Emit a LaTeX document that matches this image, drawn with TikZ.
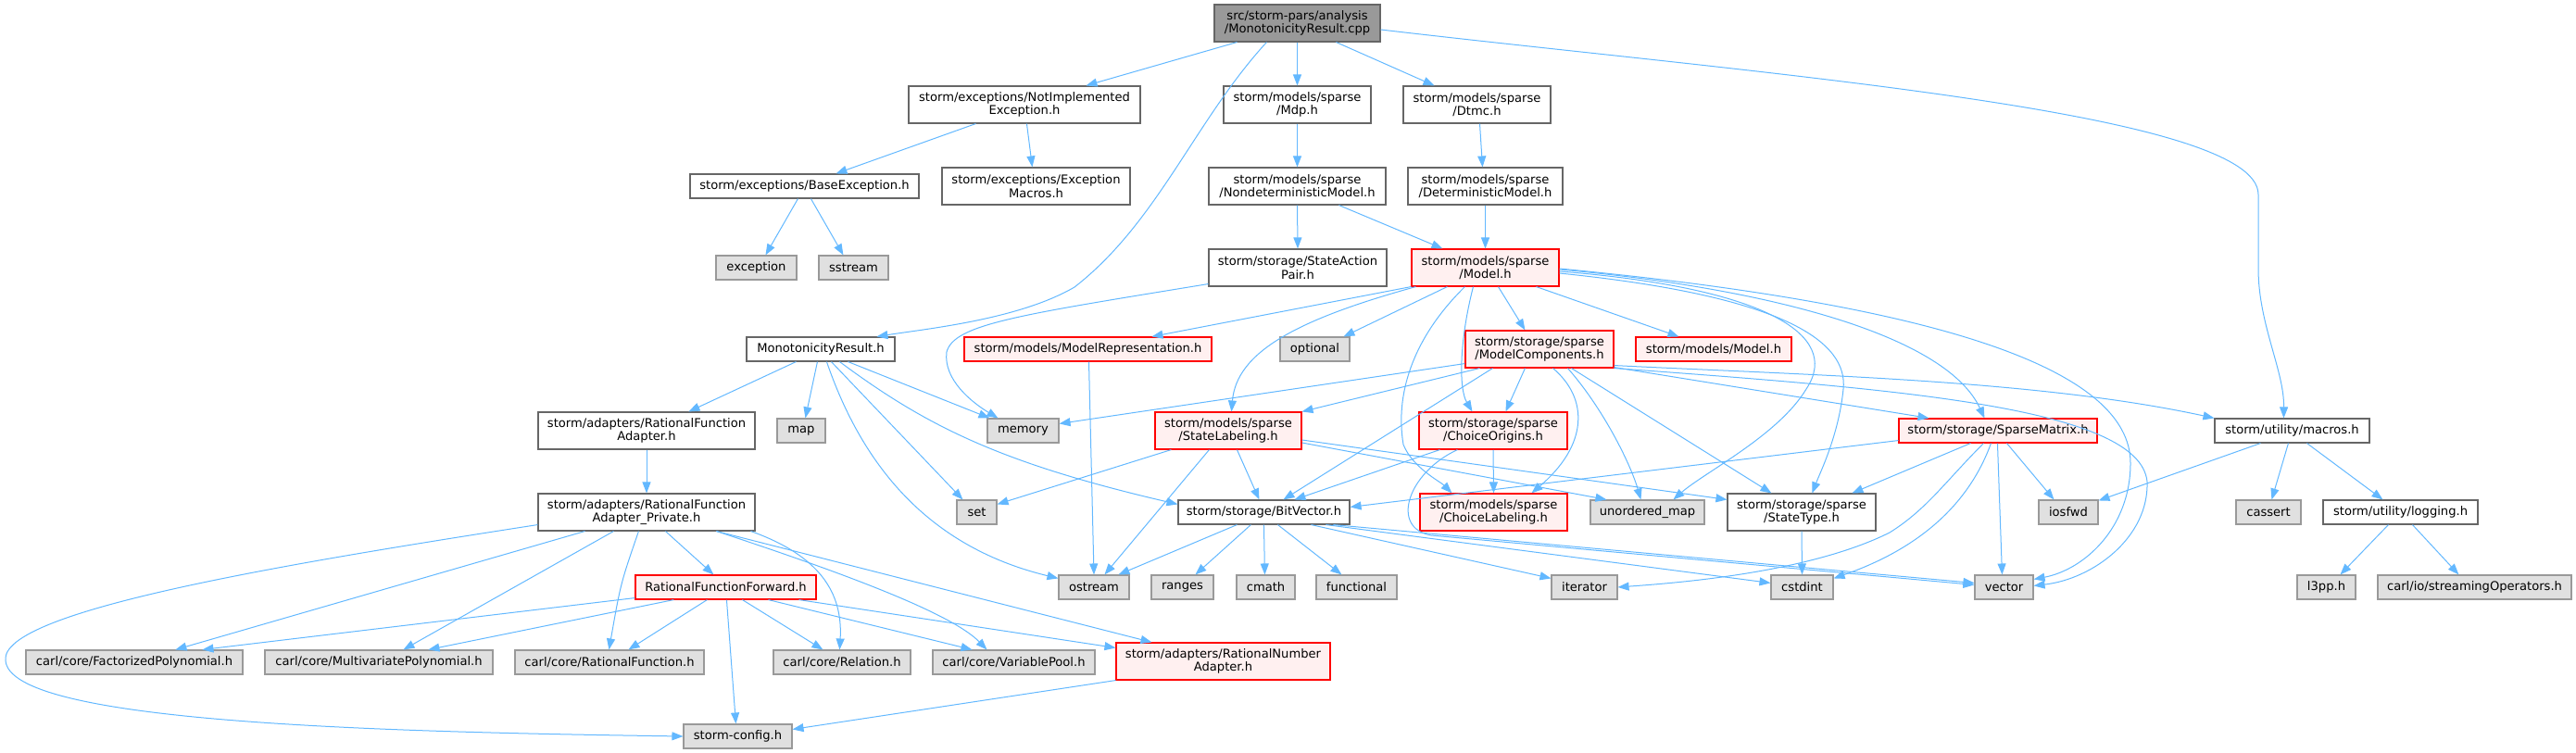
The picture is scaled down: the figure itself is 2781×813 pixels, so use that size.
\documentclass[tikz,border=0pt]{standalone}
\usepackage{fontspec}
\usetikzlibrary{arrows.meta}
\newfontfamily\dvsans{DejaVu Sans}
\definecolor{edgeblue}{HTML}{63B8FF}
\definecolor{bordgray}{HTML}{666666}
\definecolor{extborder}{HTML}{999999}
\definecolor{extfill}{HTML}{E0E0E0}
\definecolor{topfill}{HTML}{999999}
\definecolor{trfill}{HTML}{FFF0F0}
\newcommand{\mknode}[7]{\node[#1,minimum width={(#5-#3)*1pt},minimum height={(#6-#4)*1pt}] (#2) at ({(#3+#5)/2},{(#4+#6)/2}) {#7};}
\tikzset{
  nbase/.style={rectangle, inner sep=0pt, align=center, line width=1.1pt, text=black,
    font={\dvsans\fontsize{13.1}{14.5}\selectfont}},
  wbox/.style={nbase, draw=bordgray, fill=white},
  gbox/.style={nbase, draw=extborder, fill=extfill},
  rbox/.style={nbase, draw=red, fill=trfill},
  topbox/.style={nbase, draw=bordgray, fill=topfill},
  ed/.style={draw=edgeblue, line width=1pt, -{Triangle[length=12pt,width=9pt]}}
}
\begin{document}
\begin{tikzpicture}[x=1pt,y=-1pt]
\useasboundingbox (0,0) rectangle (2781,813);
% nodes
\mknode{topbox}{top}{1311}{5}{1490}{45}{src/storm-pars/analysis\\/MonotonicityResult.cpp}
\mknode{wbox}{notimpl}{981}{93}{1231}{133}{storm/exceptions/NotImplemented\\Exception.h}
\mknode{wbox}{mdp}{1321}{93}{1480}{133}{storm/models/sparse\\/Mdp.h}
\mknode{wbox}{dtmc}{1515}{93}{1674}{133}{storm/models/sparse\\/Dtmc.h}
\mknode{wbox}{baseexc}{745}{188}{992}{214}{storm/exceptions/BaseException.h}
\mknode{wbox}{excmacros}{1017}{181}{1220}{221}{storm/exceptions/Exception\\Macros.h}
\mknode{wbox}{nondet}{1305}{181}{1496}{221}{storm/models/sparse\\/NondeterministicModel.h}
\mknode{wbox}{det}{1520}{181}{1687}{221}{storm/models/sparse\\/DeterministicModel.h}
\mknode{gbox}{exception}{773}{276}{860}{302}{exception}
\mknode{gbox}{sstream}{884}{276}{959}{302}{sstream}
\mknode{wbox}{sap}{1305}{269}{1497}{309}{storm/storage/StateAction\\Pair.h}
\mknode{rbox}{model}{1524}{269}{1683}{309}{storm/models/sparse\\/Model.h}
\mknode{wbox}{monres}{806}{364}{966}{390}{MonotonicityResult.h}
\mknode{rbox}{modelrep}{1041}{364}{1308}{390}{storm/models/ModelRepresentation.h}
\mknode{gbox}{optional}{1382}{364}{1457}{390}{optional}
\mknode{rbox}{modelcomp}{1582}{357}{1742}{397}{storm/storage/sparse\\/ModelComponents.h}
\mknode{rbox}{modelsmodel}{1766}{364}{1934}{390}{storm/models/Model.h}
\mknode{wbox}{rfa}{581}{445}{815}{485}{storm/adapters/RationalFunction\\Adapter.h}
\mknode{gbox}{map}{839}{452}{891}{478}{map}
\mknode{gbox}{memory}{1066}{452}{1143}{478}{memory}
\mknode{rbox}{statelab}{1247}{445}{1405}{485}{storm/models/sparse\\/StateLabeling.h}
\mknode{rbox}{choiceorig}{1532}{445}{1692}{485}{storm/storage/sparse\\/ChoiceOrigins.h}
\mknode{rbox}{sparsematrix}{2050}{452}{2264}{478}{storm/storage/SparseMatrix.h}
\mknode{wbox}{macros}{2391}{452}{2558}{478}{storm/utility/macros.h}
\mknode{wbox}{rfap}{581}{533}{815}{573}{storm/adapters/RationalFunction\\Adapter\_Private.h}
\mknode{gbox}{set}{1033}{540}{1076}{566}{set}
\mknode{wbox}{bitvector}{1272}{540}{1457}{566}{storm/storage/BitVector.h}
\mknode{rbox}{choicelab}{1533}{533}{1692}{573}{storm/models/sparse\\/ChoiceLabeling.h}
\mknode{gbox}{umap}{1717}{540}{1840}{566}{unordered\_map}
\mknode{wbox}{statetype}{1865}{533}{2025}{573}{storm/storage/sparse\\/StateType.h}
\mknode{gbox}{iosfwd}{2201}{540}{2265}{566}{iosfwd}
\mknode{gbox}{cassert}{2414}{540}{2484}{566}{cassert}
\mknode{wbox}{logging}{2508}{540}{2675}{566}{storm/utility/logging.h}
\mknode{rbox}{rff}{686}{621}{881}{647}{RationalFunctionForward.h}
\mknode{gbox}{ostream}{1143}{621}{1219}{647}{ostream}
\mknode{gbox}{ranges}{1243}{621}{1310}{647}{ranges}
\mknode{gbox}{cmath}{1335}{621}{1398}{647}{cmath}
\mknode{gbox}{functional}{1421}{621}{1508}{647}{functional}
\mknode{gbox}{iterator}{1675}{621}{1746}{647}{iterator}
\mknode{gbox}{cstdint}{1912}{621}{1979}{647}{cstdint}
\mknode{gbox}{vector}{2132}{621}{2195}{647}{vector}
\mknode{gbox}{l3pp}{2480}{621}{2543}{647}{l3pp.h}
\mknode{gbox}{streamops}{2567}{621}{2776}{647}{carl/io/streamingOperators.h}
\mknode{gbox}{factpoly}{28}{702}{262}{728}{carl/core/FactorizedPolynomial.h}
\mknode{gbox}{multipoly}{286}{702}{532}{728}{carl/core/MultivariatePolynomial.h}
\mknode{gbox}{ratfunc}{556}{702}{760}{728}{carl/core/RationalFunction.h}
\mknode{gbox}{relation}{835}{702}{983}{728}{carl/core/Relation.h}
\mknode{gbox}{varpool}{1007}{702}{1182}{728}{carl/core/VariablePool.h}
\mknode{rbox}{rna}{1205}{694}{1436}{734}{storm/adapters/RationalNumber\\Adapter.h}
\mknode{gbox}{config}{738}{782}{855}{808}{storm-config.h}
% edges from top
\draw[ed] ([xshift=25pt]top.south west) -- ([xshift=192pt]notimpl.north west);
\draw[ed] ([xshift=57pt]top.south west) .. controls (1290,130) and (1250,240) .. (1160,310) .. controls (1100,345) and (1000,355) .. ([xshift=141pt]monres.north west);
\draw[ed] (top.south) -- (mdp.north);
\draw[ed] ([xshift=132pt]top.south west) -- ([xshift=34pt]dtmc.north west);
\draw[ed] ([yshift=-7pt]top.east) .. controls (1900,80) and (2438,120) .. (2438,210) -- (2438,290) .. controls (2438,350) and (2466,400) .. ([xshift=75pt]macros.north west);
% exceptions
\draw[ed] ([xshift=73pt]notimpl.south west) -- ([xshift=158pt]baseexc.north west);
\draw[ed] ([xshift=128pt]notimpl.south west) -- ([xshift=98pt]excmacros.north west);
\draw[ed] ([xshift=117pt]baseexc.south west) -- ([xshift=54pt]exception.north west);
\draw[ed] ([xshift=131pt]baseexc.south west) -- ([xshift=27pt]sstream.north west);
% models
\draw[ed] (mdp.south) -- (nondet.north);
\draw[ed] ([xshift=3pt]dtmc.south) -- ([xshift=-3pt]det.north);
\draw[ed] (nondet.south) -- (sap.north);
\draw[ed] ([xshift=141pt]nondet.south west) -- ([xshift=34pt]model.north west);
\draw[ed] (det.south) -- (model.north);
\draw[ed] ([yshift=3pt]sap.south west) .. controls (1100,340) and (1030,350) .. (1022,380) .. controls (1018,410) and (1050,435) .. ([xshift=12pt]memory.north west);
% Model.h
\draw[ed] (model.south west) -- ([xshift=203pt]modelrep.north west);
\draw[ed] ([xshift=5pt]model.south west) .. controls (1400,345) and (1335,380) .. ([xshift=83pt]statelab.north west);
\draw[ed] ([xshift=39pt]model.south west) -- ([xshift=69pt]optional.north west);
\draw[ed] ([xshift=58pt]model.south west) .. controls (1530,360) and (1505,420) .. (1515,480) .. controls (1525,505) and (1555,520) .. ([xshift=35pt]choicelab.north west);
\draw[ed] ([xshift=67pt]model.south west) .. controls (1575,370) and (1575,420) .. ([xshift=58pt]choiceorig.north west);
\draw[ed] ([xshift=94pt]model.south west) -- ([xshift=65pt]modelcomp.north west);
\draw[ed] ([xshift=135pt]model.south west) -- ([xshift=47pt]modelsmodel.north west);
\draw[ed] ([yshift=-4pt]model.east) .. controls (1900,310) and (1990,360) .. (1950,420) .. controls (1920,470) and (1840,510) .. ([xshift=90pt]umap.north west);
\draw[ed] ([yshift=-6pt]model.east) .. controls (1930,320) and (1995,370) .. (1990,420) .. controls (1985,470) and (1965,510) .. ([xshift=92pt]statetype.north west);
\draw[ed] ([yshift=-2pt]model.east) .. controls (1900,310) and (2100,360) .. ([xshift=93pt]sparsematrix.north west);
\draw[ed] ([yshift=-1pt]model.east) .. controls (2100,330) and (2300,400) .. (2300,500) .. controls (2300,570) and (2250,615) .. ([yshift=-5pt]vector.north east);
% ModelComponents
\draw[ed] ([yshift=5pt]modelcomp.south west) -- ([yshift=-6pt]memory.north east);
\draw[ed] ([xshift=16pt]modelcomp.south west) -- (statelab.north east);
\draw[ed] ([xshift=30pt]modelcomp.south west) -- ([xshift=114pt]bitvector.north west);
\draw[ed] ([xshift=65pt]modelcomp.south west) -- ([xshift=94pt]choiceorig.north west);
\draw[ed] ([xshift=95pt]modelcomp.south west) .. controls (1715,430) and (1715,480) .. ([xshift=121pt]choicelab.north west);
\draw[ed] ([xshift=111pt]modelcomp.south west) .. controls (1730,440) and (1760,500) .. ([xshift=55pt]umap.north west);
\draw[ed] ([xshift=115pt]modelcomp.south west) -- ([xshift=48pt]statetype.north west);
\draw[ed] ([yshift=3pt]modelcomp.south east) .. controls (1950,405) and (2200,410) .. (macros.north west);
\draw[ed] ([yshift=1pt]modelcomp.south east) -- ([xshift=33pt]sparsematrix.north west);
\draw[ed] (modelcomp.south east) .. controls (2050,420) and (2310,440) .. (2318,520) .. controls (2320,580) and (2260,625) .. ([yshift=-12pt]vector.north east);
% StateLabeling
\draw[ed] ([xshift=18pt]statelab.south west) -- ([yshift=-5pt]set.north east);
\draw[ed] ([xshift=59pt]statelab.south west) -- ([xshift=50pt]ostream.north west);
\draw[ed] ([xshift=89pt]statelab.south west) -- ([xshift=88pt]bitvector.north west);
\draw[ed] ([yshift=-13pt]statelab.east) -- ([xshift=18pt]umap.north west);
\draw[ed] ([yshift=-10pt]statelab.east) -- ([yshift=-7pt]statetype.north west);
% ChoiceOrigins
\draw[ed] ([xshift=23pt]choiceorig.south west) -- ([xshift=126pt]bitvector.north west);
\draw[ed] (choiceorig.south) -- (choicelab.north);
\draw[ed] ([xshift=42pt]choiceorig.south west) .. controls (1520,510) and (1500,570) .. (1545,578) -- ([yshift=-11pt]vector.north west);
% BitVector
\draw[ed] ([xshift=64pt]bitvector.south west) -- ([xshift=65pt]ostream.north west);
\draw[ed] ([xshift=79pt]bitvector.south west) -- ([xshift=48pt]ranges.north west);
\draw[ed] ([xshift=93pt]bitvector.south west) -- ([xshift=31pt]cmath.north west);
\draw[ed] ([xshift=108pt]bitvector.south west) -- ([xshift=28pt]functional.north west);
\draw[ed] ([xshift=144pt]bitvector.south west) -- ([yshift=-4pt]iterator.north west);
\draw[ed] ([xshift=160pt]bitvector.south west) -- ([yshift=-9pt]cstdint.north west);
\draw[ed] ([xshift=168pt]bitvector.south west) -- ([yshift=-9pt]vector.north west);
% SparseMatrix
\draw[ed] ([yshift=3pt]sparsematrix.south west) -- ([yshift=-8pt]bitvector.north east);
\draw[ed] ([xshift=78pt]sparsematrix.south west) -- ([xshift=135pt]statetype.north west);
\draw[ed] ([xshift=92pt]sparsematrix.south west) .. controls (2100,520) and (2080,550) .. (2040,575) .. controls (1950,620) and (1800,630) .. (iterator.east);
\draw[ed] ([xshift=100pt]sparsematrix.south west) .. controls (2120,560) and (2050,600) .. ([yshift=-4pt]cstdint.north east);
\draw[ed] ([xshift=107pt]sparsematrix.south west) -- ([xshift=30pt]vector.north west);
\draw[ed] ([xshift=117pt]sparsematrix.south west) -- ([xshift=17pt]iosfwd.north west);
\draw[ed] (statetype.south) -- (cstdint.north);
% macros / logging
\draw[ed] ([xshift=50pt]macros.south west) -- ([yshift=-1pt]iosfwd.north east);
\draw[ed] ([xshift=80pt]macros.south west) -- ([xshift=39pt]cassert.north west);
\draw[ed] ([xshift=100pt]macros.south west) -- ([xshift=65pt]logging.north west);
\draw[ed] ([xshift=71pt]logging.south west) -- ([xshift=47pt]l3pp.north west);
\draw[ed] ([xshift=97pt]logging.south west) -- ([xshift=88pt]streamops.north west);
% MonotonicityResult.h
\draw[ed] ([xshift=54pt]monres.south west) -- ([xshift=163pt]rfa.north west);
\draw[ed] ([xshift=77pt]monres.south west) -- ([xshift=31pt]map.north west);
\draw[ed] ([xshift=87pt]monres.south west) .. controls (930,500) and (1000,590) .. ([yshift=-4pt]ostream.north west);
\draw[ed] ([xshift=92pt]monres.south west) -- ([xshift=7pt]set.north west);
\draw[ed] ([xshift=101pt]monres.south west) .. controls (1000,460) and (1080,500) .. ([yshift=-5pt]bitvector.north west);
\draw[ed] ([xshift=110pt]monres.south west) -- ([xshift=3pt]memory.north west);
\draw[ed] ([xshift=1pt]modelrep.south) -- (ostream.north);
% adapters
\draw[ed] (rfa.south) -- (rfap.north);
\draw[ed] ([yshift=7pt]rfap.south west) .. controls (300,610) and (0,660) .. (6,713) .. controls (10,780) and (400,790) .. (config.west);
\draw[ed] ([xshift=51pt]rfap.south west) -- ([xshift=162pt]factpoly.north west);
\draw[ed] ([xshift=82pt]rfap.south west) -- ([xshift=150pt]multipoly.north west);
\draw[ed] ([xshift=109pt]rfap.south west) .. controls (670,630) .. ([xshift=102pt]ratfunc.north west);
\draw[ed] ([xshift=138pt]rfap.south west) -- ([xshift=85pt]rff.north west);
\draw[ed] ([xshift=-5pt]rfap.south east) .. controls (885,600) and (910,640) .. ([xshift=72pt]relation.north west);
\draw[ed] ([xshift=193pt]rfap.south west) .. controls (930,625) and (1030,665) .. ([xshift=59pt]varpool.north west);
\draw[ed] ([xshift=193pt]rfap.south west) -- ([xshift=39pt]rna.north west);
\draw[ed] ([yshift=2pt]rff.south west) -- ([xshift=191pt]factpoly.north west);
\draw[ed] ([xshift=42pt]rff.south west) -- ([xshift=177pt]multipoly.north west);
\draw[ed] ([xshift=78pt]rff.south west) -- ([xshift=123pt]ratfunc.north west);
\draw[ed] ([xshift=99pt]rff.south west) -- ([xshift=57pt]config.north west);
\draw[ed] ([xshift=116pt]rff.south west) -- ([xshift=54pt]relation.north west);
\draw[ed] ([xshift=144pt]rff.south west) -- ([xshift=43pt]varpool.north west);
\draw[ed] ([xshift=177pt]rff.south west) -- ([yshift=-6pt]rna.north west);
\draw[ed] (rna.south west) -- ([yshift=-6pt]config.north east);
\end{tikzpicture}
\end{document}
